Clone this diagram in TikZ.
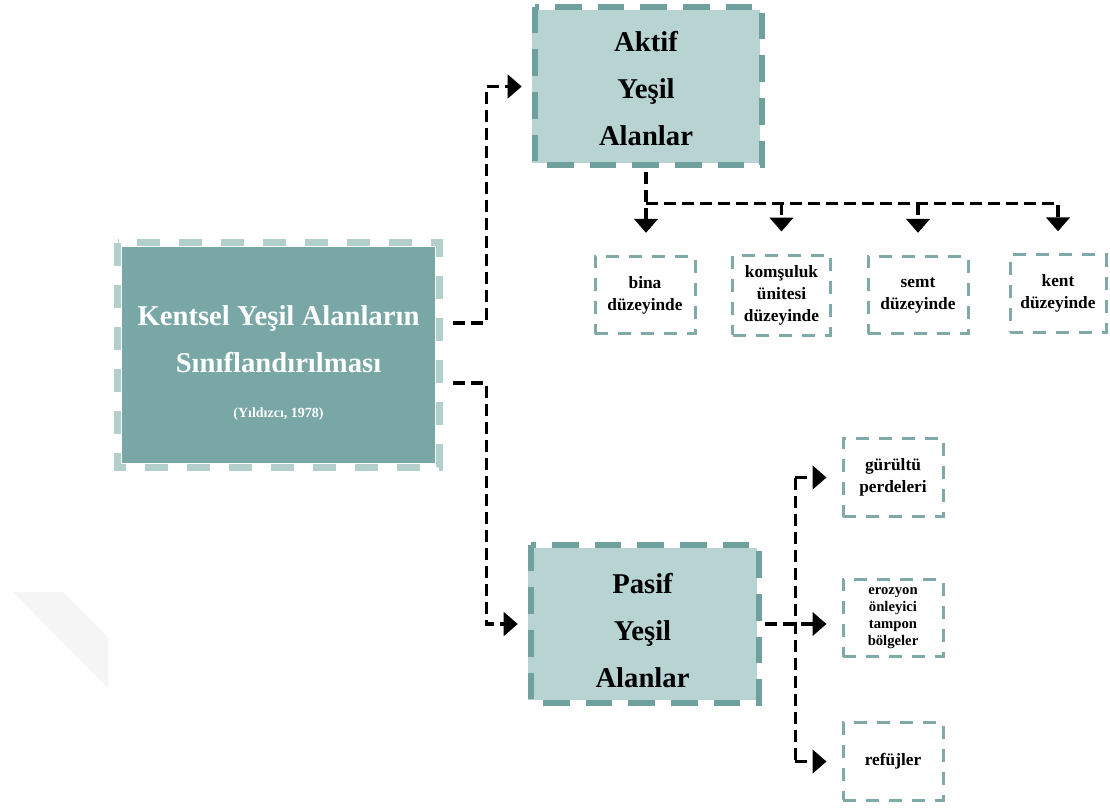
\documentclass[tikz,border=0pt]{standalone}
\usepackage{fontspec}
\setmainfont{Liberation Serif}
\usetikzlibrary{arrows.meta,calc}
\definecolor{tealdark}{HTML}{78A7A6}
\definecolor{teallight}{HTML}{B3CFCC}
\definecolor{tealpale}{HTML}{B7D4D2}
\definecolor{tealmid}{HTML}{6FA09E}
\definecolor{tealleaf}{HTML}{80AAA8}
\begin{document}
\begin{tikzpicture}[x=0.75pt,y=-0.75pt,
  mainfill/.style={fill=tealdark, draw=none, minimum width=234.75pt, minimum height=162pt, inner sep=0pt},
  mainborder/.style={draw=teallight, line width=5.25pt, dash pattern=on 17.25pt off 14.25pt},
  subfill/.style={fill=tealpale, draw=none, minimum width=171pt, minimum height=114.75pt, inner sep=0pt},
  subborder/.style={draw=tealmid, line width=4.5pt, dash pattern=on 20pt off 12pt},
  bigtext/.style={font=\bfseries\fontsize{21.5}{35.25}\selectfont, align=center, inner sep=0pt},
  whitetext/.style={text=white, inner sep=0pt, anchor=base},
  leaf/.style={draw=tealleaf, line width=2.25pt, dash pattern=on 9.75pt off 7.5pt,
    minimum width=75pt, minimum height=58pt, inner sep=0pt, align=center,
    font=\bfseries\fontsize{13}{16.5}\selectfont},
  conn/.style={draw=black, line width=2.6pt, dash pattern=on 9pt off 4.5pt},
  arr/.style={-{Triangle[length=10.5pt,width=17.5pt]}}
]
\useasboundingbox (0,0) rectangle (1110,807);

% faint watermark strip
\fill[black!4] (13,592) -- (63,592) -- (108,637) -- (108,688) -- cycle;

% main box
\node[mainfill] (main) at (278.5,355) {};
\draw[mainborder] ($(main.north west)+(-4,-4)$) rectangle ($(main.south east)+(4,4)$);
\node[whitetext, font=\bfseries\fontsize{21.5}{25}\selectfont] (t1) at (278.5,325) {Kentsel Yeşil Alanların};
\node[whitetext, font=\bfseries\fontsize{21.5}{25}\selectfont] (t2) at (278.5,372) {Sınıflandırılması};
\node[whitetext, font=\bfseries\fontsize{10.5}{12}\selectfont] (t3) at (278.5,417) {(Yıldızcı, 1978)};

% Aktif
\node[subfill] (aktif) at (646,86.5) {};
\draw[subborder] ($(aktif.north west)+(3,-3)$) rectangle ($(aktif.south east)+(2,2)$);
\node[bigtext] (aktiftext) at (646,88.5) {Aktif\\Yeşil\\Alanlar};

% Pasif
\node[subfill, minimum width=171.75pt, minimum height=114pt] (pasif) at (642.5,624) {};
\draw[subborder] ($(pasif.north west)+(3,-3)$) rectangle ($(pasif.south east)+(1.5,3)$);
\node[bigtext] (pasiftext) at (642.5,630.5) {Pasif\\Yeşil\\Alanlar};

% leaves of Aktif
\node[leaf] (bina) at (645,295) {bina\\düzeyinde};
\node[leaf, minimum height=60pt, minimum width=73pt] (komsu) at (781.5,295) {komşuluk\\ünitesi\\düzeyinde};
\node[leaf] (semt) at (918,295) {semt\\düzeyinde};
\node[leaf, minimum width=72pt] (kent) at (1058,293.5) {kent\\düzeyinde};

% leaves of Pasif
\node[leaf, minimum height=59pt] (gurultu) at (893,477.5) {gürültü\\perdeleri};
\node[leaf, font=\bfseries\fontsize{11}{12.75}\selectfont] (erozyon) at (893,618) {erozyon\\önleyici\\tampon\\bölgeler};
\node[leaf] (refujler) at (893,761.5) {refüjler};

% connectors from main box
\coordinate (a1) at ($(main.east)+(18,-32)$);
\coordinate (a2) at ($(main.east)+(18,28)$);
\draw[conn,arr] (a1) -| ($(aktif.west)+(-45,0)$) -- ($(aktif.west)+(-10,0)$);
\draw[conn,arr] (a2) -| ($(pasif.west)+(-41,0)$) -- ($(pasif.west)+(-10,0)$);

% Aktif children
\draw[conn,arr] ($(aktif.south)+(0,9)$) -- ($(aktif.south |- bina.north)+(0,-22)$);
\coordinate (hl) at ($(aktif.south)+(0,40)$);
\draw[conn,arr] (hl) -| ($(kent.north)+(0,-22)$);
\draw[conn,arr] (hl -| komsu.north) -- ($(komsu.north)+(0,-22)$);
\draw[conn,arr] (hl -| semt.north) -- ($(semt.north)+(0,-22)$);

% Pasif children
\coordinate (tr) at ($(pasif.east)+(38,0)$);
\draw[conn,arr] ($(pasif.east)+(8,0)$) -- ($(pasif.east -| erozyon.west)+(-15,0)$);
\draw[conn] (tr |- gurultu.west) -- (tr |- refujler.west);
\draw[conn,arr] (tr |- gurultu.west) -- ($(gurultu.west)+(-15,0)$);
\draw[conn,arr] (tr |- refujler.west) -- ($(refujler.west)+(-15,0)$);
\end{tikzpicture}
\end{document}
